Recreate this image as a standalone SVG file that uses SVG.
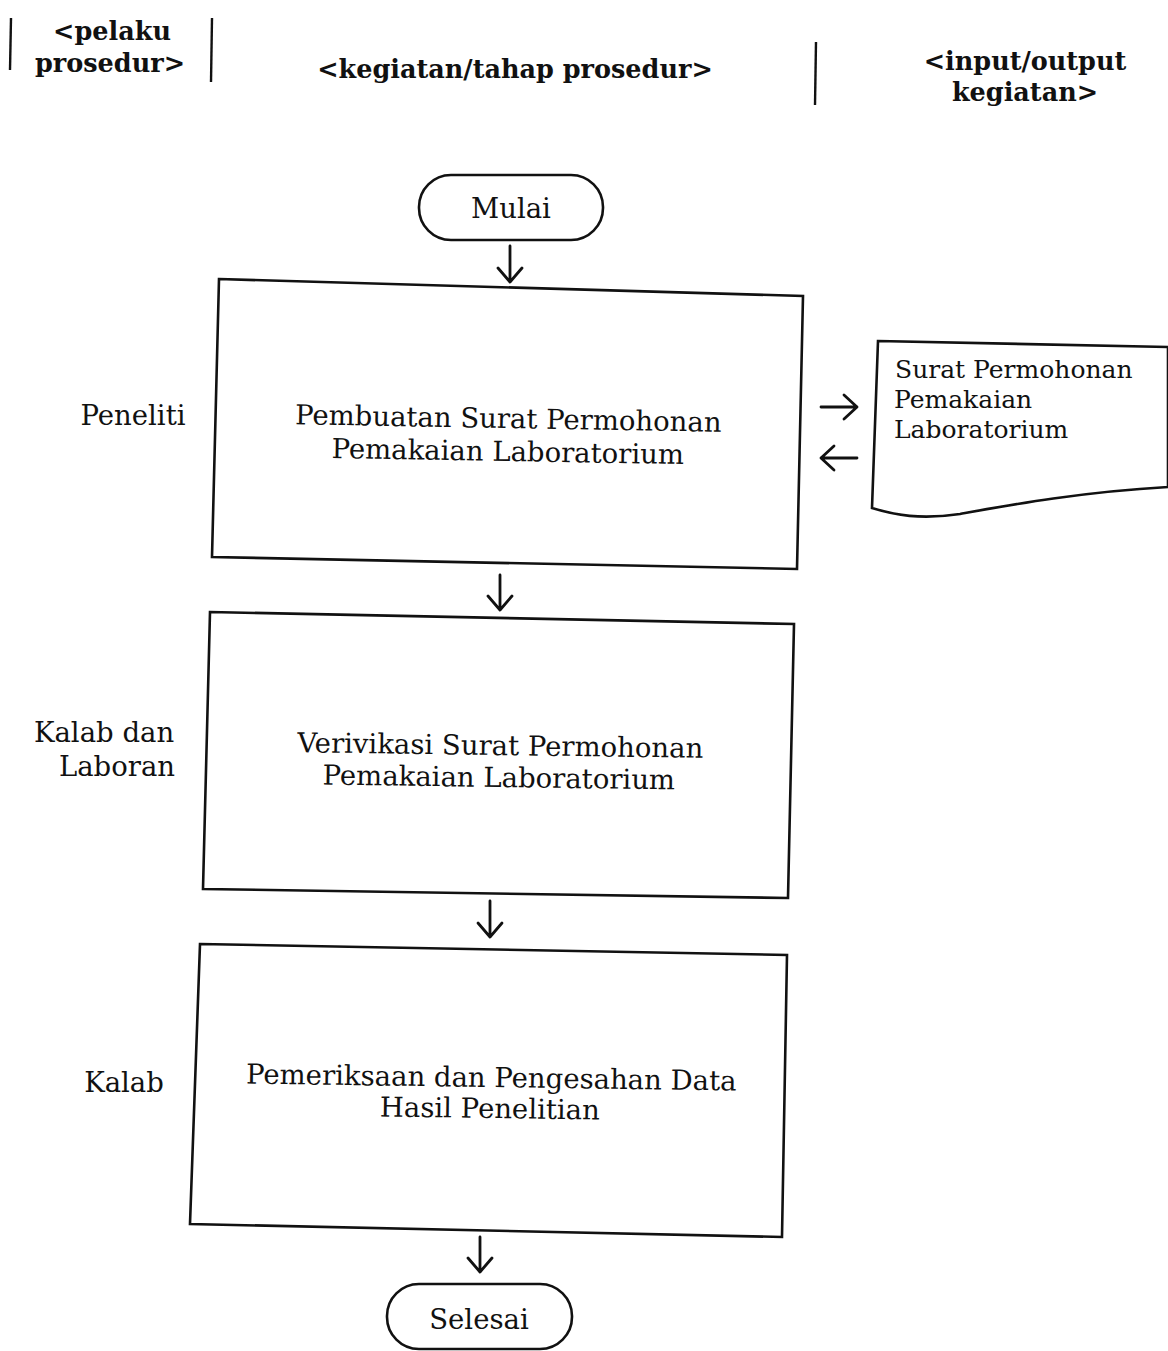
<svg xmlns="http://www.w3.org/2000/svg" width="1168" height="1351" viewBox="0 0 1168 1351">
<style>
text{font-family:"DejaVu Serif","Liberation Serif",serif;fill:#111}
.h{font-weight:bold;font-size:25.5px}
.t{font-size:27.5px}
.d{font-size:25px}
.m{text-anchor:middle}
.s{fill:#fff;stroke:#111;stroke-width:2.6}
.ln{stroke:#111;stroke-width:2.4;fill:none}
.ar{stroke:#111;stroke-width:2.8;fill:none;stroke-linecap:round;stroke-linejoin:round}
</style>
<rect width="1168" height="1351" fill="#fff"/>
<g id="header">
<line class="ln" x1="11" y1="18" x2="10" y2="70"/>
<line class="ln" x1="212" y1="18" x2="211" y2="82"/>
<line class="ln" x1="816" y1="42" x2="815" y2="105"/>
<text class="h m" x="112" y="40">&lt;pelaku</text>
<text class="h m" x="110" y="72">prosedur&gt;</text>
<text class="h m" x="515" y="78">&lt;kegiatan/tahap prosedur&gt;</text>
<text class="h m" x="1025" y="70">&lt;input/output</text>
<text class="h m" x="1025" y="101">kegiatan&gt;</text>
</g>
<g id="mulai">
<rect class="s" x="419" y="175" width="184" height="65" rx="32"/>
<text class="t m" x="511" y="218">Mulai</text>
</g>
<g id="step1">
<text class="t m" x="133" y="425">Peneliti</text>
<polygon class="s" points="219,279 803,296 797,569 212,557"/>
<text class="t m" x="508" y="428" transform="rotate(1 508 440)">Pembuatan Surat Permohonan</text>
<text class="t m" x="508" y="461" transform="rotate(1 508 440)">Pemakaian Laboratorium</text>
</g>
<g id="doc">
<path class="s" d="M878,341 L1168,347 L1168,487 C1080,492 1010,505 960,514 C920,520 895,515 872,508 Z"/>
<text class="d" x="895" y="378">Surat Permohonan</text>
<text class="d" x="894" y="408">Pemakaian</text>
<text class="d" x="894" y="438">Laboratorium</text>
</g>
<g id="step2">
<text class="t m" x="104" y="742">Kalab dan</text>
<text class="t m" x="117" y="776">Laboran</text>
<polygon class="s" points="210,612 794,624 788,898 203,889"/>
<text class="t m" x="500" y="755" transform="rotate(0.8 500 770)">Verivikasi Surat Permohonan</text>
<text class="t m" x="499" y="787" transform="rotate(0.8 500 770)">Pemakaian Laboratorium</text>
</g>
<g id="step3">
<text class="t m" x="124" y="1092">Kalab</text>
<polygon class="s" points="200,944 787,955 782,1237 190,1224"/>
<text class="t m" x="491" y="1087" transform="rotate(0.8 490 1100)">Pemeriksaan dan Pengesahan Data</text>
<text class="t m" x="490" y="1118" transform="rotate(0.8 490 1100)">Hasil Penelitian</text>
</g>
<g id="selesai">
<rect class="s" x="387" y="1284" width="185" height="65" rx="32"/>
<text class="t m" x="479" y="1329">Selesai</text>
</g>
<g id="connectors">
<path class="ar" d="M510,246 V282 M498,268 L510,282 L522,268"/>
<path class="ar" d="M500,575 V610 M488,596 L500,610 L512,596"/>
<path class="ar" d="M490,901 V937 M478,923 L490,937 L502,923"/>
<path class="ar" d="M480,1237 V1272 M468,1258 L480,1272 L492,1258"/>
<path class="ar" d="M821,407 H857 M844,395 L857,407 L844,419"/>
<path class="ar" d="M857,458 H821 M834,446 L821,458 L834,470"/>
</g>
</svg>
